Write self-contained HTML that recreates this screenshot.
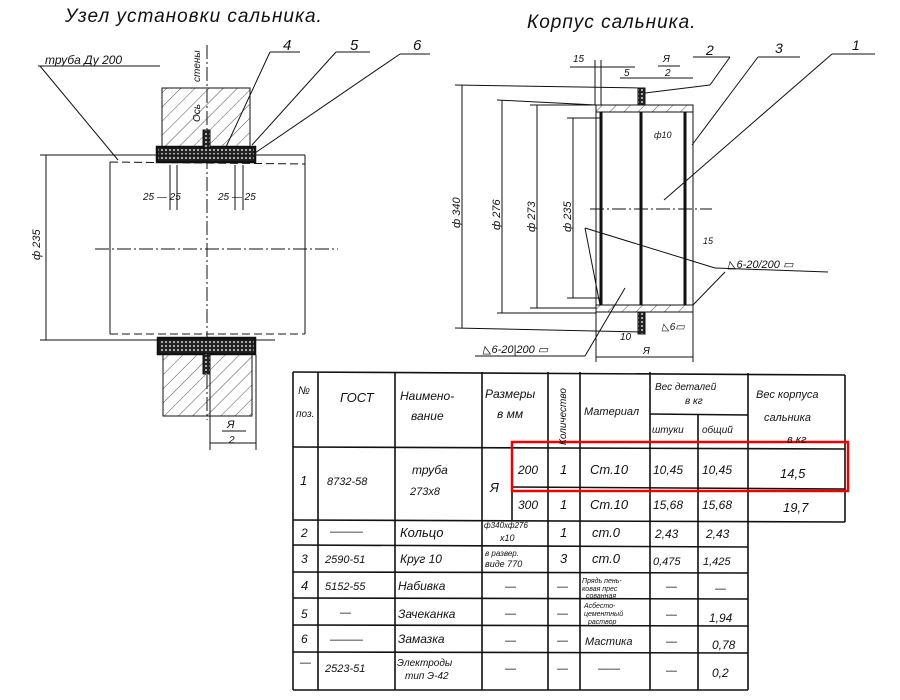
<!DOCTYPE html>
<html><head><meta charset="utf-8"><style>
html,body{margin:0;padding:0;background:#fff}
svg{display:block}
text{font-family:"Liberation Sans",sans-serif;font-style:italic;fill:#111}
</style></head><body>
<svg width="900" height="700" viewBox="0 0 900 700" xmlns="http://www.w3.org/2000/svg">
<defs>
<pattern id="h" width="10" height="10" patternUnits="userSpaceOnUse" patternTransform="rotate(45)">
<line x1="0" y1="0" x2="0" y2="10" stroke="#222" stroke-width="0.8"/></pattern>
<pattern id="x" width="4" height="4" patternUnits="userSpaceOnUse">
<rect width="4" height="4" fill="#222"/><rect x="1" y="1" width="2" height="2" fill="#aaa"/></pattern>
</defs>
<g stroke="#111" fill="none" stroke-width="1">
<!-- LEFT -->
<text x="65" y="22" font-size="19" stroke="none" letter-spacing="1">Узел установки сальника.</text>
<text x="45" y="64" font-size="12" stroke="none">труба Ду 200</text>
<line x1="38" y1="66" x2="160" y2="66"/>
<line x1="40" y1="66" x2="118" y2="160"/>
<rect x="162" y="88" width="88" height="60" fill="url(#h)"/>
<line x1="207" y1="45" x2="207" y2="420" stroke-dasharray="14,3,2,3"/>
<text x="200" y="82" font-size="10" stroke="none" transform="rotate(-90 200 82)">стены</text>
<text x="200" y="122" font-size="10" stroke="none" transform="rotate(-90 200 122)">Ось</text>
<rect x="157" y="147" width="98" height="15" fill="url(#x)"/>
<rect x="157" y="147" width="98" height="15" fill="none" stroke-width="2.5"/>
<rect x="203" y="130" width="7" height="18" fill="url(#x)"/>
<rect x="158" y="338" width="97" height="16" fill="url(#x)"/>
<rect x="158" y="338" width="97" height="16" fill="none" stroke-width="2.5"/>
<rect x="163" y="354" width="89" height="62" fill="url(#h)"/>
<rect x="203" y="354" width="7" height="20" fill="url(#x)"/>
<line x1="110" y1="162" x2="110" y2="334"/>
<line x1="305" y1="155" x2="305" y2="334"/>
<line x1="110" y1="162" x2="305" y2="164" stroke-dasharray="8,4"/>
<line x1="110" y1="334" x2="305" y2="334" stroke-dasharray="8,4"/>
<line x1="40" y1="155" x2="305" y2="155"/>
<line x1="40" y1="340" x2="275" y2="340"/>
<line x1="46" y1="155" x2="46" y2="340"/>
<text x="40" y="260" font-size="11" stroke="none" transform="rotate(-90 40 260)">ф 235</text>
<line x1="95" y1="249" x2="338" y2="249" stroke-dasharray="14,3,2,3"/>
<line x1="170" y1="165" x2="170" y2="210"/><line x1="177" y1="165" x2="177" y2="210"/>
<line x1="235" y1="165" x2="235" y2="210"/><line x1="243" y1="165" x2="243" y2="210"/>
<text x="143" y="200" font-size="10" stroke="none">25 — 25</text>
<text x="218" y="200" font-size="10" stroke="none">25 — 25</text>
<text x="283" y="50" font-size="15" stroke="none">4</text>
<text x="350" y="50" font-size="15" stroke="none">5</text>
<text x="413" y="50" font-size="15" stroke="none">6</text>
<line x1="270" y1="52" x2="300" y2="52"/><line x1="270" y1="52" x2="226" y2="147"/>
<line x1="336" y1="52" x2="370" y2="52"/><line x1="336" y1="52" x2="252" y2="145"/>
<line x1="400" y1="54" x2="430" y2="54"/><line x1="400" y1="54" x2="255" y2="153"/>
<line x1="210" y1="355" x2="210" y2="450"/><line x1="256" y1="355" x2="256" y2="450"/>
<line x1="210" y1="443" x2="256" y2="443"/>
<text x="227" y="428" font-size="11" stroke="none">Я</text>
<line x1="222" y1="431" x2="246" y2="431"/>
<text x="229" y="443" font-size="10" stroke="none">2</text>
<!-- RIGHT -->
<text x="527" y="28" font-size="19" stroke="none" letter-spacing="1">Корпус сальника.</text>
<rect x="596" y="105" width="97" height="7" fill="url(#h)"/>
<rect x="596" y="305" width="97" height="7" fill="url(#h)"/>
<rect x="638" y="88" width="7" height="17" fill="url(#x)"/>
<rect x="638" y="312" width="7" height="22" fill="url(#x)"/>
<line x1="596" y1="105" x2="596" y2="312"/><line x1="693" y1="105" x2="693" y2="312"/>
<line x1="601" y1="112" x2="601" y2="305" stroke-width="3"/>
<line x1="641" y1="112" x2="641" y2="305" stroke-width="3"/>
<line x1="685" y1="112" x2="685" y2="305" stroke-width="3"/>
<line x1="590" y1="209" x2="712" y2="209" stroke-dasharray="14,3,2,3"/>
<line x1="455" y1="85" x2="640" y2="88"/><line x1="455" y1="328" x2="640" y2="332"/>
<line x1="462" y1="85" x2="462" y2="328"/>
<line x1="497" y1="100" x2="596" y2="105"/><line x1="497" y1="313" x2="596" y2="313"/>
<line x1="502" y1="100" x2="502" y2="313"/>
<line x1="530" y1="105" x2="596" y2="105"/><line x1="530" y1="308" x2="596" y2="308"/>
<line x1="537" y1="105" x2="537" y2="308"/>
<line x1="567" y1="118" x2="600" y2="118"/><line x1="567" y1="298" x2="600" y2="298"/>
<line x1="573" y1="118" x2="573" y2="298"/>
<text x="460" y="228" font-size="11" stroke="none" transform="rotate(-90 460 228)">ф 340</text>
<text x="500" y="230" font-size="11" stroke="none" transform="rotate(-90 500 230)">ф 276</text>
<text x="535" y="232" font-size="11" stroke="none" transform="rotate(-90 535 232)">ф 273</text>
<text x="571" y="232" font-size="11" stroke="none" transform="rotate(-90 571 232)">ф 235</text>
<line x1="595" y1="60" x2="595" y2="105"/><line x1="601" y1="60" x2="601" y2="105"/>
<text x="573" y="62" font-size="10" stroke="none">15</text>
<line x1="570" y1="67" x2="635" y2="67"/>
<text x="624" y="76" font-size="10" stroke="none">5</text>
<line x1="620" y1="78" x2="693" y2="78"/>
<text x="663" y="62" font-size="10" stroke="none">Я</text>
<line x1="658" y1="66" x2="680" y2="66"/>
<text x="665" y="76" font-size="10" stroke="none">2</text>
<text x="706" y="55" font-size="14" stroke="none">2</text>
<text x="775" y="53" font-size="14" stroke="none">3</text>
<text x="852" y="50" font-size="14" stroke="none">1</text>
<line x1="693" y1="57" x2="730" y2="57"/><line x1="730" y1="57" x2="710" y2="85"/><line x1="710" y1="85" x2="645" y2="93"/>
<line x1="758" y1="57" x2="800" y2="57"/><line x1="758" y1="57" x2="692" y2="145"/>
<line x1="832" y1="54" x2="875" y2="54"/><line x1="832" y1="54" x2="664" y2="200"/>
<text x="654" y="138" font-size="9" stroke="none">ф10</text>
<text x="703" y="244" font-size="9" stroke="none">15</text>
<line x1="585" y1="228" x2="715" y2="268"/><line x1="715" y1="268" x2="828" y2="272"/>
<line x1="585" y1="228" x2="600" y2="305"/><line x1="725" y1="272" x2="693" y2="305"/>
<text x="728" y="268" font-size="11" stroke="none">◺6-20/200 ▭</text>
<text x="483" y="353" font-size="11" stroke="none">◺6-20|200 ▭</text>
<line x1="475" y1="356" x2="585" y2="356"/><line x1="585" y1="356" x2="625" y2="288"/>
<text x="662" y="330" font-size="10" stroke="none">◺6▭</text>
<line x1="596" y1="312" x2="596" y2="362"/><line x1="693" y1="312" x2="693" y2="362"/>
<line x1="596" y1="357" x2="693" y2="357"/>
<text x="643" y="354" font-size="10" stroke="none">Я</text>
<text x="620" y="340" font-size="10" stroke="none">10</text>
<!-- TABLE -->
<g stroke-width="1.6">
<line x1="293" y1="372" x2="845" y2="375"/>
<line x1="293" y1="447" x2="845" y2="449"/>
<line x1="512" y1="487" x2="845" y2="489"/>
<line x1="293" y1="520" x2="845" y2="522"/>
<line x1="293" y1="545" x2="748" y2="547"/>
<line x1="293" y1="572" x2="748" y2="573"/>
<line x1="293" y1="598" x2="748" y2="599"/>
<line x1="293" y1="625" x2="748" y2="626"/>
<line x1="293" y1="652" x2="748" y2="653"/>
<line x1="293" y1="690" x2="748" y2="690"/>
<line x1="650" y1="414" x2="748" y2="415"/>
<line x1="293" y1="372" x2="293" y2="690"/>
<line x1="318" y1="372" x2="318" y2="690"/>
<line x1="395" y1="372" x2="395" y2="690"/>
<line x1="482" y1="372" x2="482" y2="690"/>
<line x1="512" y1="447" x2="512" y2="520"/>
<line x1="548" y1="372" x2="548" y2="690"/>
<line x1="580" y1="372" x2="580" y2="690"/>
<line x1="650" y1="372" x2="650" y2="690"/>
<line x1="698" y1="414" x2="698" y2="690"/>
<line x1="748" y1="373" x2="748" y2="690"/>
<line x1="845" y1="375" x2="845" y2="522"/>
</g>
<rect x="512" y="442" width="336" height="49" stroke="#e00" stroke-width="2.5"/>
</g>
<g font-size="11" stroke="none">
<text x="298" y="394">№</text><text x="296" y="417" font-size="10">поз.</text>
<text x="340" y="402" font-size="13">ГОСТ</text>
<text x="400" y="400" font-size="12">Наимено-</text><text x="411" y="420" font-size="12">вание</text>
<text x="485" y="398" font-size="12">Размеры</text><text x="497" y="418" font-size="12">в мм</text>
<text x="566" y="445" font-size="10" transform="rotate(-90 566 445)">Количество</text>
<text x="584" y="415" font-size="11">Материал</text>
<text x="655" y="390" font-size="10">Вес деталей</text><text x="685" y="404" font-size="10">в кг</text>
<text x="652" y="433" font-size="10">штуки</text><text x="702" y="433" font-size="10">общий</text>
<text x="756" y="398" font-size="11">Вес корпуса</text><text x="764" y="421" font-size="11">сальника</text><text x="787" y="443" font-size="11">в кг</text>
<text x="300" y="485" font-size="13">1</text><text x="327" y="485">8732-58</text>
<text x="412" y="474" font-size="12">труба</text><text x="410" y="495">273х8</text>
<text x="490" y="492" font-size="13">Я</text>
<text x="518" y="474" font-size="12">200</text><text x="518" y="509" font-size="12">300</text>
<text x="560" y="474" font-size="13">1</text><text x="560" y="509" font-size="13">1</text>
<text x="590" y="474" font-size="13">Ст.10</text><text x="590" y="509" font-size="13">Ст.10</text>
<text x="653" y="474" font-size="12">10,45</text><text x="702" y="474" font-size="12">10,45</text><text x="780" y="478" font-size="13">14,5</text>
<text x="653" y="509" font-size="12">15,68</text><text x="702" y="509" font-size="12">15,68</text><text x="783" y="512" font-size="13">19,7</text>
<text x="301" y="537" font-size="12">2</text><text x="330" y="535">———</text><text x="400" y="537" font-size="13">Кольцо</text>
<text x="484" y="528" font-size="8">ф340хф276</text><text x="500" y="541" font-size="9">х10</text>
<text x="560" y="537" font-size="13">1</text><text x="592" y="537" font-size="13">ст.0</text>
<text x="655" y="538" font-size="12">2,43</text><text x="706" y="538" font-size="12">2,43</text>
<text x="301" y="563" font-size="12">3</text><text x="325" y="563">2590-51</text><text x="400" y="563" font-size="12">Круг 10</text>
<text x="485" y="556" font-size="8">в развер.</text><text x="485" y="567" font-size="9">виде 770</text>
<text x="560" y="563" font-size="13">3</text><text x="592" y="563" font-size="13">ст.0</text>
<text x="653" y="565" font-size="11">0,475</text><text x="703" y="565" font-size="11">1,425</text>
<text x="301" y="590" font-size="13">4</text><text x="325" y="590">5152-55</text><text x="398" y="590" font-size="12">Набивка</text>
<text x="505" y="590">—</text><text x="557" y="590">—</text>
<text x="582" y="583" font-size="7">Прядь пень-</text><text x="582" y="591" font-size="7">ковая прес</text><text x="586" y="598" font-size="7">сованная</text>
<text x="666" y="590">—</text><text x="715" y="592">—</text>
<text x="301" y="618" font-size="12">5</text><text x="340" y="616">—</text><text x="398" y="618" font-size="12">Зачеканка</text>
<text x="505" y="617">—</text><text x="557" y="617">—</text>
<text x="584" y="608" font-size="7">Асбесто-</text><text x="584" y="616" font-size="7">цементный</text><text x="588" y="624" font-size="7">раствор</text>
<text x="666" y="618">—</text><text x="709" y="622" font-size="12">1,94</text>
<text x="301" y="643" font-size="12">6</text><text x="330" y="643">———</text><text x="398" y="643" font-size="12">Замазка</text>
<text x="505" y="644">—</text><text x="557" y="644">—</text><text x="585" y="645" font-size="11">Мастика</text>
<text x="666" y="645">—</text><text x="712" y="649" font-size="12">0,78</text>
<text x="300" y="666">—</text><text x="325" y="672">2523-51</text>
<text x="397" y="666" font-size="10">Электроды</text><text x="405" y="679" font-size="10">тип Э-42</text>
<text x="505" y="672">—</text><text x="557" y="672">—</text><text x="598" y="672">——</text>
<text x="666" y="674">—</text><text x="712" y="677" font-size="12">0,2</text>
</g>
</svg>
</body></html>
